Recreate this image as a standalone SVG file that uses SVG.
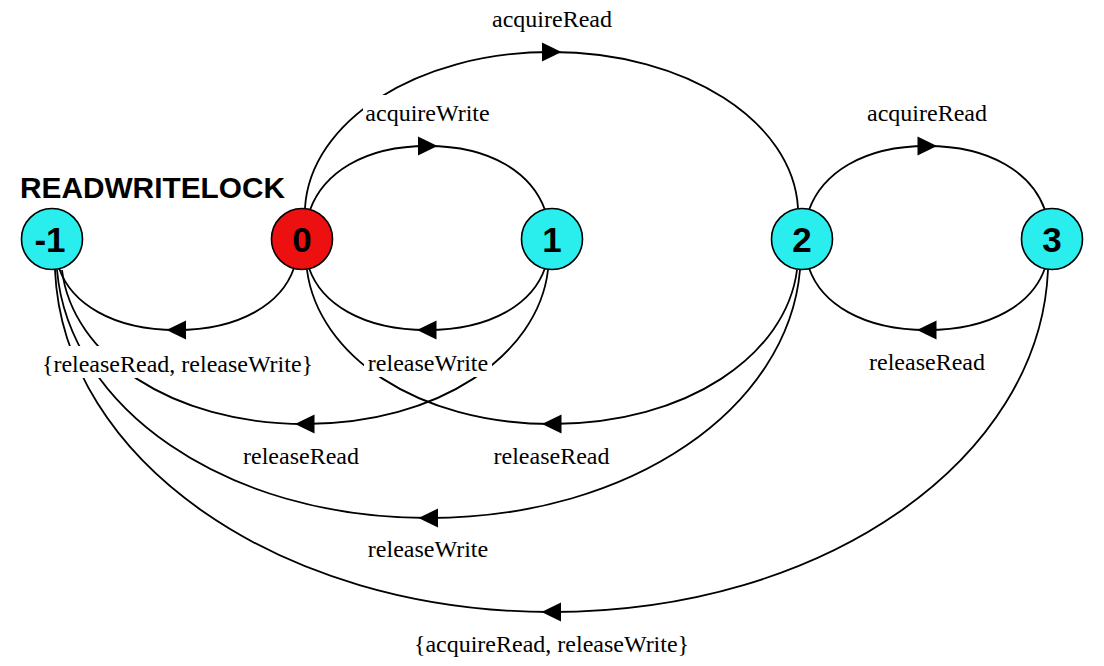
<svg xmlns="http://www.w3.org/2000/svg" width="1104" height="666" viewBox="0 0 1104 666">
<defs>
<style>
.edge{fill:none;stroke:#000;stroke-width:1.8;marker-mid:url(#arr)}
.node circle{stroke:#000;stroke-width:1.6}
.cyan{fill:#2aeeee}
.red{fill:#ec1010}
.nl{font-family:"Liberation Sans",Arial,sans-serif;font-weight:bold;font-size:35px;text-anchor:middle;fill:#000}
.lbl{font-family:"Liberation Serif","Times New Roman",serif;font-size:24px;text-anchor:middle;fill:#000}
.bg{fill:#fff}
.title{font-family:"Liberation Sans",Arial,sans-serif;font-weight:bold;font-size:29px;fill:#000}
</style>
<marker id="arr" viewBox="-10 -10 20 20" refX="0" refY="0" markerWidth="20" markerHeight="20" markerUnits="userSpaceOnUse" orient="auto">
<path d="M10,0 L-9.5,-9.5 L-9.5,9.5 Z" fill="#000"/>
</marker>
</defs>
<rect width="1104" height="666" fill="#fff"/>
<g id="connectors">
<path id="e-0-1" class="edge" d="M310,210 C323,174 362.6,146 427.5,146 S532,174 545,210"/>
<path id="e-0-2" class="edge" d="M305,208 C310,121.9 416,52 551.5,52 S793,121.9 798,208"/>
<path id="e-2-3" class="edge" d="M809,210 C822,174 861.9,146 927,146 S1032,174 1045,210"/>
<path id="e-0-m1" class="edge" d="M294,268 C282,303 240.8,330 176.5,330 S71,303 59,268"/>
<path id="e-1-0" class="edge" d="M545,268 C533,303 492.1,330 427,330 S321,303 309,268"/>
<path id="e-3-2" class="edge" d="M1045,268 C1033,303 992.1,330 927,330 S821,303 809,268"/>
<path id="e-1-m1" class="edge" d="M548,270 C538,355 439.1,424 305,424 S72,355 62,270"/>
<path id="e-2-0" class="edge" d="M797,270 C786,355 687.2,424 552,424 S318,355 307,270"/>
<path id="e-2-m1" class="edge" d="M800,270 C788,406.9 633.6,518 428.5,518 S69,406.9 57,270"/>
<path id="e-3-m1" class="edge" d="M1048,270 C1040,458.8 825.6,612 551.5,612 S63,458.8 55,270"/>
</g>
<g id="labels">
<rect class="bg" x="490" y="1" width="124" height="32"/>
<text class="lbl" x="552" y="27">acquireRead</text>
<rect class="bg" x="363" y="95" width="128" height="32"/>
<text class="lbl" x="427.5" y="121">acquireWrite</text>
<rect class="bg" x="865" y="95" width="124" height="32"/>
<text class="lbl" x="927" y="121">acquireRead</text>
<rect class="bg" x="41" y="346" width="273" height="32"/>
<text class="lbl" x="177.5" y="372">{releaseRead, releaseWrite}</text>
<rect class="bg" x="364" y="345" width="128" height="32"/>
<text class="lbl" x="428" y="371">releaseWrite</text>
<rect class="bg" x="865" y="344" width="124" height="32"/>
<text class="lbl" x="927" y="370">releaseRead</text>
<rect class="bg" x="241" y="438" width="120" height="32"/>
<text class="lbl" x="301" y="464">releaseRead</text>
<rect class="bg" x="491" y="438" width="120" height="32"/>
<text class="lbl" x="551.5" y="464">releaseRead</text>
<rect class="bg" x="364" y="531" width="128" height="32"/>
<text class="lbl" x="428" y="557">releaseWrite</text>
<rect class="bg" x="410" y="626" width="283" height="32"/>
<text class="lbl" x="551.5" y="652">{acquireRead, releaseWrite}</text>
</g>
<text id="title" class="title" x="20" y="198" textLength="265" lengthAdjust="spacingAndGlyphs">READWRITELOCK</text>
<g id="node-m1" class="node"><circle class="cyan" cx="52" cy="239" r="30.5"/><text class="nl" x="50" y="252">-1</text></g>
<g id="node-0" class="node"><circle class="red" cx="302" cy="239" r="30.5"/><text class="nl" x="302" y="252">0</text></g>
<g id="node-1" class="node"><circle class="cyan" cx="552" cy="239" r="30.5"/><text class="nl" x="552" y="252">1</text></g>
<g id="node-2" class="node"><circle class="cyan" cx="802" cy="239" r="30.5"/><text class="nl" x="802" y="252">2</text></g>
<g id="node-3" class="node"><circle class="cyan" cx="1052" cy="239" r="30.5"/><text class="nl" x="1052" y="252">3</text></g>
</svg>
